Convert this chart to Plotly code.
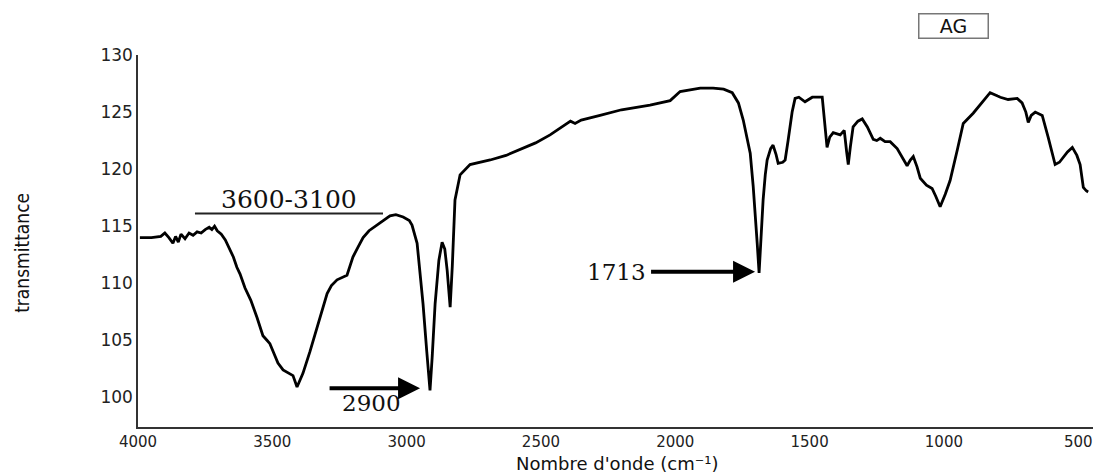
import plotly.graph_objects as go

wavenumber = [3993, 3950, 3915, 3900, 3885, 3870, 3860, 3850, 3840, 3825, 3810, 3795, 3780, 3765,
              3750, 3735, 3725, 3715, 3705, 3690, 3675, 3660, 3645, 3632, 3620, 3602, 3580, 3557,
              3535, 3520, 3509, 3495, 3479, 3460, 3445, 3423, 3408, 3395, 3386, 3360, 3334, 3315,
              3296, 3280, 3259, 3222, 3200, 3180, 3162, 3140, 3110, 3085, 3062, 3040, 3013, 2990,
              2980, 2961, 2950, 2939, 2925, 2913, 2905, 2894, 2880, 2868, 2858, 2849, 2838, 2830,
              2820, 2801, 2764, 2720, 2689, 2630, 2578, 2520, 2466, 2420, 2390, 2373, 2350, 2280,
              2200, 2094, 2019, 1982, 1930, 1907, 1859, 1820, 1788, 1765, 1747, 1730, 1721, 1710,
              1703, 1695, 1688, 1680, 1673, 1665, 1658, 1645, 1636, 1625, 1617, 1600, 1591, 1580,
              1565, 1554, 1540, 1517, 1500, 1490, 1453, 1442, 1435, 1425, 1412, 1386, 1371, 1362,
              1356, 1348, 1338, 1320, 1304, 1285, 1263, 1250, 1237, 1219, 1200, 1174, 1150, 1137,
              1125, 1114, 1100, 1088, 1065, 1044, 1030, 1014, 995, 977, 950, 928, 891, 860, 828,
              800, 790, 761, 727, 709, 695, 686, 675, 660, 645, 634, 612, 586, 570, 556, 540, 522,
              505, 493, 481, 470, 463]
transmittance = [114.0, 114.0, 114.1, 114.4, 114.0, 113.5, 114.1, 113.6, 114.3, 113.9, 114.4, 114.2,
                 114.5, 114.4, 114.7, 114.9, 114.7, 115.0, 114.6, 114.3, 113.8, 113.0, 112.3, 111.4,
                 110.8, 109.6, 108.5, 107.0, 105.4, 105.0, 104.7, 103.9, 103.0, 102.4, 102.2, 101.9,
                 100.9, 101.6, 102.1, 104.0, 106.1, 107.6, 109.1, 109.8, 110.3, 110.7, 112.3, 113.2,
                 114.0, 114.6, 115.1, 115.5, 115.9, 116.0, 115.8, 115.5, 115.1, 113.5, 111.0, 108.2,
                 104.0, 100.6, 103.5, 108.2, 112.0, 113.6, 113.0, 111.1, 107.9, 111.5, 117.3, 119.5,
                 120.4, 120.6, 120.8, 121.2, 121.7, 122.3, 123.0, 123.7, 124.2, 124.0, 124.3, 124.7,
                 125.2, 125.6, 126.0, 126.8, 127.0, 127.1, 127.1, 127.0, 126.7, 125.8, 124.3, 122.4,
                 121.4, 118.5, 116.4, 113.5, 110.9, 114.5, 117.3, 119.5, 120.8, 121.8, 122.1, 121.3,
                 120.5, 120.6, 120.8, 122.5, 125.0, 126.2, 126.3, 125.9, 126.2, 126.3, 126.3, 123.7,
                 121.9, 122.8, 123.2, 123.0, 123.4, 121.5, 120.4, 122.0, 123.7, 124.2, 124.4, 123.7,
                 122.6, 122.5, 122.7, 122.4, 122.4, 121.8, 120.9, 120.3, 120.8, 121.1, 120.2, 119.2,
                 118.6, 118.3, 117.6, 116.7, 117.8, 119.0, 121.7, 124.0, 124.9, 125.8, 126.7, 126.4,
                 126.3, 126.1, 126.2, 125.8, 125.0, 124.1, 124.7, 125.0, 124.8, 124.7, 122.8, 120.4,
                 120.6, 121.0, 121.5, 121.9, 121.2, 120.4, 118.4, 118.1, 118.0]

x_ticks = [4000, 3500, 3000, 2500, 2000, 1500, 1000, 500]
y_ticks = [100, 105, 110, 115, 120, 125, 130]

band_label = "3600-3100"
peak_labels = ["2900", "1713"]
peak_tips = [(2950, 100.8), (1703, 111.0)]

fig = go.Figure()
fig.add_trace(go.Scatter(x=wavenumber, y=transmittance, mode="lines",
                         line=dict(color="black", width=2.8), showlegend=False,
                         hoverinfo="skip"))

fig.update_layout(
    width=1116, height=474,
    margin=dict(l=138, r=23, t=55, b=47),
    paper_bgcolor="white", plot_bgcolor="white",
    xaxis=dict(range=[4000, 445], tickvals=x_ticks, ticktext=[str(v) for v in x_ticks],
               showgrid=False, zeroline=False, showline=True, linecolor="#333",
               linewidth=1.5, ticks="", ticklabelstandoff=0,
               tickfont=dict(family="DejaVu Sans", size=15, color="#222")),
    yaxis=dict(range=[97.4, 130], tickvals=y_ticks, ticktext=[str(v) for v in y_ticks],
               showgrid=False, zeroline=False, showline=True, linecolor="#333",
               linewidth=1.5, ticks="", ticklabelstandoff=0,
               tickfont=dict(family="DejaVu Sans", size=17, color="#222")),
)

serif = dict(family="DejaVu Serif", size=23, color="#111")
annotations = [
    dict(text="Nombre d'onde (cm\u207b\u00b9)", xref="paper", yref="paper",
         x=0.502, y=-0.097, xanchor="center", yanchor="middle", showarrow=False,
         font=dict(family="DejaVu Sans", size=18, color="#111")),
    dict(text="transmittance", xref="paper", yref="paper", x=-0.1215, y=0.468,
         textangle=-90, xanchor="center", yanchor="middle", showarrow=False,
         font=dict(family="DejaVu Sans Condensed, sans-serif", size=19, color="#111")),
    dict(text="AG", xref="paper", yref="paper", x=0.8544, y=1.078,
         xanchor="center", yanchor="middle", showarrow=False, width=66, height=21,
         align="center", valign="middle",
         font=dict(family="DejaVu Sans", size=19, color="#111"),
         bordercolor="#777", borderwidth=1.5, borderpad=1, bgcolor="white"),
    dict(text=band_label, x=3438, y=117.3, xref="x", yref="y", showarrow=False,
         xanchor="center", yanchor="middle",
         font=dict(family="DejaVu Serif", size=25, color="#111")),
    dict(text=peak_labels[0], x=3132, y=99.5, xref="x", yref="y", showarrow=False,
         xanchor="center", yanchor="middle", font=serif),
    dict(text="", x=peak_tips[0][0], y=peak_tips[0][1], xref="x", yref="y",
         ax=-92, ay=0, axref="pixel", ayref="pixel", showarrow=True,
         arrowhead=2, arrowsize=1.1, arrowwidth=4, arrowcolor="black", standoff=0),
    dict(text=peak_labels[1], x=peak_tips[1][0], y=peak_tips[1][1], xref="x", yref="y",
         ax=-139, ay=0, axref="pixel", ayref="pixel", showarrow=True, borderpad=5,
         arrowhead=2, arrowsize=1.1, arrowwidth=4, arrowcolor="black", standoff=0,
         font=serif),
]
fig.update_layout(annotations=annotations)

fig.add_shape(type="line", xref="x", yref="y", x0=3788, x1=3088, y0=116.1, y1=116.1,
              line=dict(color="#222", width=2))

fig.write_html("out.html")
